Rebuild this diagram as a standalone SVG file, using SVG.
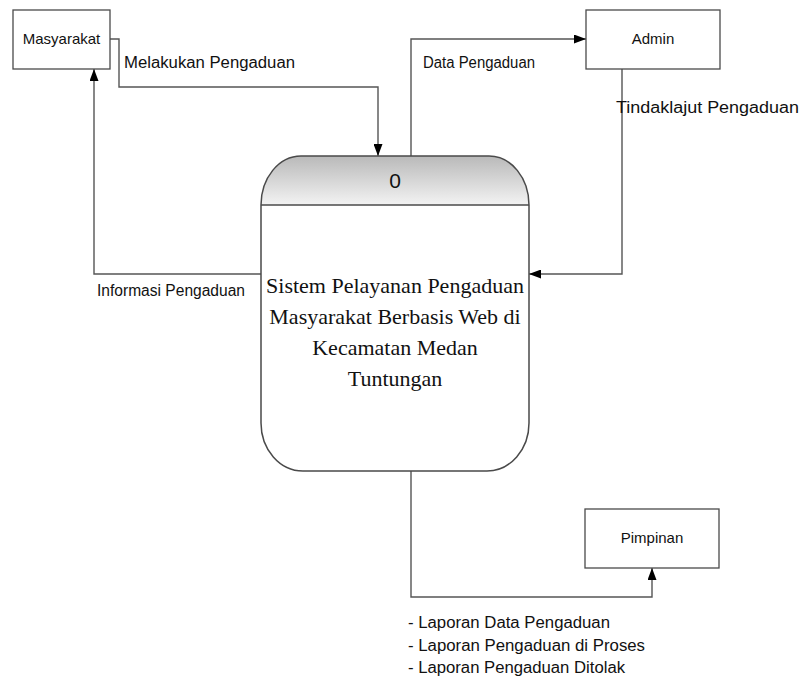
<svg xmlns="http://www.w3.org/2000/svg" width="807" height="680" viewBox="0 0 807 680">
  <style>
    .ent { fill: #ffffff; stroke: #4a4a4a; stroke-width: 1.3; }
    .lbl { font-family: "Liberation Sans", Arial, sans-serif; fill: #111; }
    .node { font-size: 15px; text-anchor: middle; }
    .flow { font-size: 16px; }
    .conn { fill: none; stroke: #555; stroke-width: 1.4; }
    .proc { fill: #ffffff; stroke: #4a4a4a; stroke-width: 1.5; }
    .ptxt { font-family: "Liberation Serif", "Times New Roman", serif; font-size: 22px; fill: #111; text-anchor: middle; }
  </style>
  <defs>
    <marker id="arr" markerUnits="userSpaceOnUse" markerWidth="12" markerHeight="9" refX="12" refY="4.5" orient="auto">
      <path d="M0,0 L12,4.5 L0,9 Z" fill="#000"/>
    </marker>
    <linearGradient id="hdr" x1="0" y1="0" x2="0" y2="1">
      <stop offset="0" stop-color="#b9b9b9"/>
      <stop offset="1" stop-color="#f3f3f3"/>
    </linearGradient>
  </defs>
  <rect width="807" height="680" fill="#ffffff"/>

  <g id="connectors">
    <path class="conn" d="M110,39 H119 V87 H378 V156" marker-end="url(#arr)"/>
    <path class="conn" d="M261,274 H94 V69" marker-end="url(#arr)"/>
    <path class="conn" d="M411,156 V39 H586" marker-end="url(#arr)"/>
    <path class="conn" d="M622,69 V274 H529" marker-end="url(#arr)"/>
    <path class="conn" d="M411,471 V597 H652 V568" marker-end="url(#arr)"/>
    <text class="lbl flow" x="124" y="68" textLength="171" lengthAdjust="spacingAndGlyphs">Melakukan Pengaduan</text>
    <text class="lbl flow" x="423" y="68" textLength="112" lengthAdjust="spacingAndGlyphs">Data Pengaduan</text>
    <text class="lbl flow" x="616" y="113" textLength="183" lengthAdjust="spacingAndGlyphs">Tindaklajut Pengaduan</text>
    <text class="lbl flow" x="97" y="296" textLength="148" lengthAdjust="spacingAndGlyphs">Informasi Pengaduan</text>
    <text class="lbl flow" x="408" y="628" textLength="202" lengthAdjust="spacingAndGlyphs">- Laporan Data Pengaduan</text>
    <text class="lbl flow" x="408" y="651" textLength="237" lengthAdjust="spacingAndGlyphs">- Laporan Pengaduan di Proses</text>
    <text class="lbl flow" x="408" y="673" textLength="217" lengthAdjust="spacingAndGlyphs">- Laporan Pengaduan Ditolak</text>
  </g>

  <g id="masyarakat">
    <rect class="ent" x="13" y="10" width="97" height="59"/>
    <text class="lbl node" x="61.5" y="44">Masyarakat</text>
  </g>

  <g id="admin">
    <rect class="ent" x="586" y="10" width="134" height="59"/>
    <text class="lbl node" x="653" y="44">Admin</text>
  </g>

  <g id="pimpinan">
    <rect class="ent" x="585" y="509" width="134" height="59"/>
    <text class="lbl node" x="652" y="543">Pimpinan</text>
  </g>

  <g id="process0">
    <path d="M261,205 A40,49 0 0 1 301,156 L489,156 A40,49 0 0 1 529,205 Z" fill="url(#hdr)"/>
    <path class="proc" fill="none" d="M261,205 A40,49 0 0 1 301,156 L489,156 A40,49 0 0 1 529,205 L529,423 A42,48 0 0 1 487,471 L303,471 A42,48 0 0 1 261,423 Z" style="fill:none"/>
    <line x1="261" y1="205" x2="529" y2="205" stroke="#4a4a4a" stroke-width="1.5"/>
    <text class="lbl" x="395" y="188" font-size="21" text-anchor="middle">0</text>
    <text class="ptxt" x="395" y="293">Sistem Pelayanan Pengaduan</text>
    <text class="ptxt" x="395" y="324">Masyarakat Berbasis Web di</text>
    <text class="ptxt" x="395" y="355">Kecamatan Medan</text>
    <text class="ptxt" x="395" y="386">Tuntungan</text>
  </g>
</svg>
